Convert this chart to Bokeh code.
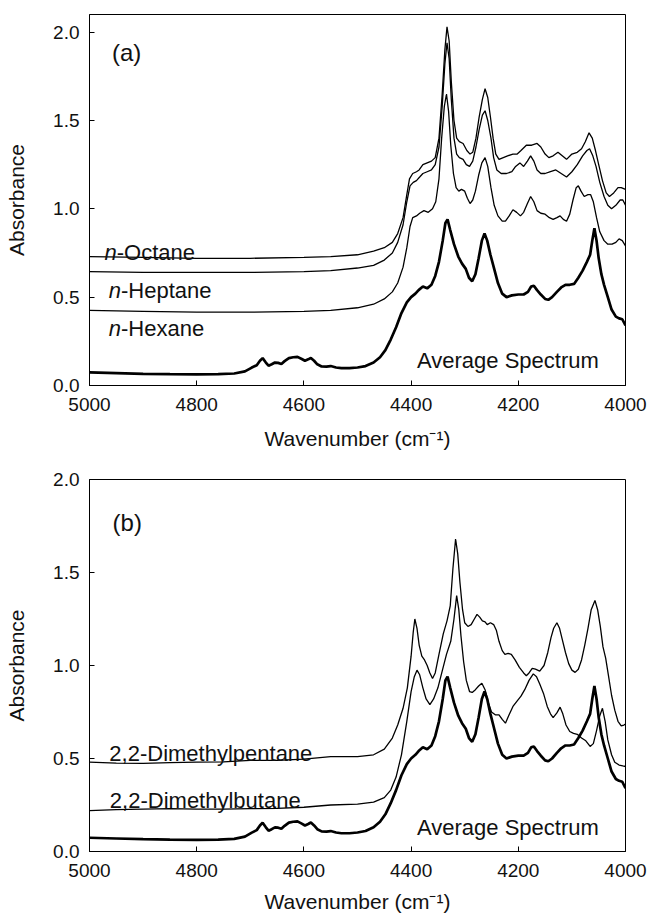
from bokeh.plotting import figure
from bokeh.models import Range1d, FixedTicker, PrintfTickFormatter, Label
from bokeh.layouts import column
from bokeh.embed import file_html
from bokeh.resources import INLINE

FONT = "Liberation Sans"

x_ticks = [5000, 4800, 4600, 4400, 4200, 4000]
y_ticks = [0.0, 0.5, 1.0, 1.5, 2.0]

# ---------------- panel (a) ----------------
octane_wn = [5000, 4900, 4800, 4700, 4600, 4550, 4500, 4470, 4450, 4435, 4425, 4415, 4408, 4403, 4397, 4390,
             4385, 4378, 4370, 4362, 4355, 4348, 4342, 4337, 4333, 4329, 4325, 4320, 4315, 4310, 4303, 4296,
             4290, 4285, 4279, 4273, 4267, 4262, 4257, 4252, 4247, 4242, 4236, 4228, 4220, 4210, 4202, 4195,
             4185, 4175, 4165, 4158, 4150, 4143, 4135, 4126, 4118, 4110, 4100, 4090, 4082, 4075, 4068, 4062,
             4056, 4050, 4043, 4036, 4030, 4022, 4014, 4008, 4000]
octane_abs = [0.73, 0.725, 0.72, 0.72, 0.725, 0.73, 0.74, 0.76, 0.78, 0.81, 0.86, 0.95, 1.08, 1.17, 1.20, 1.21,
              1.22, 1.25, 1.26, 1.27, 1.29, 1.40, 1.65, 1.90, 2.03, 1.95, 1.72, 1.50, 1.40, 1.38, 1.37, 1.33,
              1.31, 1.32, 1.40, 1.52, 1.62, 1.68, 1.63, 1.52, 1.40, 1.31, 1.28, 1.29, 1.30, 1.31, 1.31, 1.33,
              1.36, 1.36, 1.37, 1.35, 1.31, 1.29, 1.30, 1.32, 1.30, 1.28, 1.31, 1.32, 1.34, 1.38, 1.43, 1.40,
              1.33, 1.25, 1.16, 1.09, 1.07, 1.09, 1.12, 1.12, 1.11]

heptane_wn = [5000, 4900, 4800, 4700, 4600, 4550, 4500, 4470, 4450, 4435, 4425, 4415, 4408, 4402, 4396, 4390,
              4384, 4378, 4370, 4362, 4355, 4348, 4342, 4337, 4333, 4329, 4325, 4320, 4315, 4310, 4303, 4297,
              4291, 4285, 4279, 4273, 4267, 4262, 4257, 4251, 4246, 4240, 4232, 4222, 4212, 4205, 4197, 4190,
              4183, 4177, 4171, 4165, 4158, 4150, 4140, 4130, 4120, 4110, 4100, 4090, 4080, 4072, 4067, 4061,
              4055, 4048, 4040, 4033, 4026, 4018, 4010, 4005, 4000]
heptane_abs = [0.645, 0.64, 0.64, 0.64, 0.645, 0.65, 0.665, 0.68, 0.71, 0.75, 0.81, 0.91, 1.04, 1.13, 1.15, 1.16,
               1.18, 1.20, 1.21, 1.22, 1.25, 1.35, 1.58, 1.82, 1.94, 1.85, 1.62, 1.40, 1.31, 1.29, 1.28, 1.25,
               1.24, 1.27, 1.35, 1.45, 1.53, 1.555, 1.50, 1.40, 1.29, 1.22, 1.20, 1.20, 1.21, 1.24, 1.26, 1.24,
               1.27, 1.30, 1.27, 1.22, 1.20, 1.20, 1.21, 1.22, 1.20, 1.18, 1.21, 1.25, 1.30, 1.33, 1.34, 1.30,
               1.24, 1.15, 1.07, 1.02, 1.00, 1.02, 1.05, 1.05, 1.02]

hexane_wn = [5000, 4900, 4800, 4700, 4600, 4550, 4500, 4470, 4450, 4435, 4425, 4415, 4408, 4402, 4397, 4390,
             4384, 4376, 4368, 4360, 4354, 4348, 4343, 4338, 4334, 4330, 4326, 4321, 4316, 4311, 4306, 4300,
             4295, 4290, 4285, 4280, 4274, 4268, 4262, 4257, 4251, 4245, 4238, 4230, 4224, 4217, 4210, 4203,
             4196, 4190, 4183, 4177, 4171, 4165, 4158, 4150, 4142, 4135, 4128, 4122, 4116, 4110, 4104, 4098,
             4092, 4088, 4083, 4077, 4070, 4065, 4060, 4054, 4048, 4040, 4033, 4025, 4018, 4012, 4006, 4000]
hexane_abs = [0.425, 0.42, 0.415, 0.415, 0.42, 0.425, 0.44, 0.46, 0.49, 0.53, 0.58, 0.67, 0.78, 0.90, 0.95, 0.96,
              0.975, 0.99, 0.98, 1.00, 1.04, 1.17, 1.40, 1.58, 1.65, 1.55, 1.36, 1.20, 1.12, 1.10, 1.11, 1.10,
              1.06, 1.03, 1.05, 1.10, 1.19, 1.26, 1.29, 1.24, 1.12, 1.02, 0.96, 0.93, 0.93, 0.96, 0.995, 0.98,
              0.96, 0.98, 1.03, 1.07, 1.04, 0.99, 0.975, 0.97, 0.95, 0.94, 0.95, 0.96, 0.94, 0.93, 0.97, 1.05,
              1.12, 1.13, 1.10, 1.07, 1.08, 1.08, 1.04, 0.95, 0.87, 0.82, 0.80, 0.80, 0.81, 0.83, 0.82, 0.79]

average_wn = [5000, 4950, 4900, 4850, 4800, 4760, 4730, 4710, 4698, 4688, 4682, 4677, 4671, 4666, 4660, 4654,
              4648, 4642, 4636, 4628, 4620, 4612, 4604, 4598, 4592, 4587, 4581, 4575, 4567, 4558, 4550, 4540,
              4530, 4515, 4500, 4485, 4470, 4458, 4448, 4438, 4428, 4418, 4408, 4400, 4392, 4386, 4378, 4370,
              4362, 4355, 4348, 4341, 4336, 4332, 4327, 4320, 4312, 4305, 4298, 4292, 4286, 4280, 4274, 4268,
              4263, 4258, 4252, 4245, 4238, 4230, 4222, 4212, 4200, 4190, 4182, 4176, 4171, 4165, 4158, 4150,
              4144, 4137, 4128, 4120, 4112, 4104, 4096, 4088, 4080, 4072, 4066, 4062, 4058, 4054, 4050, 4045,
              4040, 4033, 4026, 4018, 4012, 4006, 4000]
average_abs = [0.074, 0.07, 0.066, 0.064, 0.063, 0.064, 0.068, 0.08, 0.10, 0.115, 0.14, 0.155, 0.13, 0.112, 0.12, 0.13,
               0.128, 0.122, 0.138, 0.155, 0.16, 0.162, 0.15, 0.14, 0.148, 0.156, 0.14, 0.12, 0.108, 0.107, 0.11, 0.102,
               0.098, 0.098, 0.102, 0.11, 0.13, 0.16, 0.20, 0.26, 0.33, 0.41, 0.47, 0.50, 0.52, 0.54, 0.56, 0.55,
               0.57, 0.62, 0.70, 0.82, 0.92, 0.94, 0.88, 0.80, 0.73, 0.69, 0.66, 0.61, 0.59, 0.63, 0.72, 0.82,
               0.86, 0.82, 0.74, 0.66, 0.58, 0.52, 0.50, 0.51, 0.515, 0.515, 0.53, 0.56, 0.565, 0.54, 0.515, 0.49,
               0.485, 0.50, 0.53, 0.555, 0.57, 0.57, 0.575, 0.61, 0.65, 0.70, 0.74, 0.82, 0.89, 0.82, 0.72, 0.63,
               0.57, 0.50, 0.43, 0.39, 0.38, 0.375, 0.34]

# ---------------- panel (b) ----------------
dmpentane_wn = [5000, 4950, 4900, 4850, 4800, 4750, 4700, 4650, 4600, 4550, 4500, 4470, 4450, 4435, 4425, 4415,
                4407, 4400, 4396, 4393, 4389, 4385, 4380, 4375, 4370, 4365, 4360, 4355, 4348, 4340, 4333, 4327,
                4322, 4317, 4313, 4309, 4304, 4300, 4294, 4288, 4282, 4277, 4272, 4267, 4262, 4258, 4252, 4246,
                4241, 4236, 4230, 4225, 4219, 4213, 4206, 4198, 4190, 4185, 4180, 4174, 4168, 4160, 4152, 4145,
                4139, 4134, 4128, 4123, 4118, 4112, 4106, 4100, 4094, 4088, 4082, 4076, 4070, 4064, 4057, 4052,
                4047, 4042, 4037, 4032, 4026, 4020, 4014, 4008, 4003, 4000]
dmpentane_abs = [0.48, 0.475, 0.474, 0.478, 0.48, 0.482, 0.49, 0.49, 0.497, 0.51, 0.51, 0.52, 0.55, 0.61, 0.68, 0.77,
                 0.88, 1.05, 1.18, 1.25, 1.20, 1.11, 1.05, 1.03, 1.00, 0.96, 0.93, 0.96, 1.06, 1.17, 1.24, 1.32,
                 1.52, 1.68, 1.60, 1.45, 1.30, 1.23, 1.21, 1.22, 1.25, 1.275, 1.26, 1.24, 1.235, 1.22, 1.23, 1.22,
                 1.19, 1.13, 1.08, 1.06, 1.065, 1.06, 1.03, 0.99, 0.96, 0.945, 0.96, 0.985, 0.98, 0.97, 1.00, 1.07,
                 1.15, 1.20, 1.23, 1.20, 1.14, 1.07, 1.01, 0.975, 0.963, 0.98, 1.03, 1.11, 1.20, 1.30, 1.35, 1.30,
                 1.21, 1.10, 1.04, 0.95, 0.84, 0.76, 0.70, 0.675, 0.68, 0.685]

dmbutane_wn = [5000, 4950, 4900, 4850, 4800, 4750, 4700, 4650, 4600, 4550, 4500, 4470, 4450, 4438, 4428, 4418,
               4408, 4400, 4394, 4389, 4384, 4378, 4372, 4365, 4358, 4350, 4342, 4334, 4326, 4320, 4315, 4311,
               4307, 4302, 4297, 4291, 4286, 4280, 4274, 4268, 4262, 4256, 4250, 4243, 4236, 4230, 4224, 4218,
               4210, 4202, 4195, 4188, 4180, 4172, 4166, 4160, 4153, 4146, 4140, 4135, 4128, 4122, 4117, 4111,
               4104, 4097, 4090, 4082, 4074, 4066, 4060, 4054, 4048, 4043, 4038, 4033, 4026, 4020, 4012, 4005,
               4000]
dmbutane_abs = [0.22, 0.225, 0.228, 0.23, 0.228, 0.228, 0.23, 0.232, 0.238, 0.25, 0.255, 0.265, 0.29, 0.33, 0.40, 0.52,
                0.70, 0.86, 0.94, 0.975, 0.95, 0.88, 0.82, 0.79, 0.82, 0.88, 0.97, 1.06, 1.13, 1.25, 1.376, 1.30,
                1.16, 1.02, 0.92, 0.86, 0.855, 0.87, 0.89, 0.905, 0.87, 0.80, 0.75, 0.735, 0.735, 0.71, 0.69, 0.73,
                0.78, 0.81, 0.835, 0.87, 0.92, 0.955, 0.94, 0.90, 0.85, 0.78, 0.74, 0.72, 0.745, 0.776, 0.74, 0.68,
                0.645, 0.635, 0.63, 0.61, 0.595, 0.565, 0.58, 0.65, 0.73, 0.77, 0.70, 0.60, 0.52, 0.48, 0.465, 0.46,
                0.457]

THIN = 1.3
THICK = 2.7


def make_fig(height, top_border, bottom_border, ymax, xlabel_standoff):
    p = figure(width=648, height=height,
               x_range=Range1d(5000, 4000), y_range=Range1d(0, ymax),
               output_backend="svg", toolbar_location=None,
               min_border_left=89, min_border_right=23,
               min_border_top=top_border, min_border_bottom=bottom_border,
               x_axis_label="Wavenumber (cm\u207b\u00b9)", y_axis_label="Absorbance")
    p.grid.visible = False
    p.outline_line_color = "black"
    p.outline_line_width = 1
    for ax in (p.xaxis[0], p.yaxis[0]):
        ax.major_tick_in = 5
        ax.major_tick_out = 0
        ax.minor_tick_in = 0
        ax.minor_tick_out = 0
        ax.axis_line_color = "black"
        ax.major_tick_line_color = "black"
        ax.major_label_text_font = FONT
        ax.major_label_text_font_size = "19px"
        ax.major_label_text_color = "#111111"
        ax.axis_label_text_font = FONT
        ax.axis_label_text_font_size = "21px"
        ax.axis_label_text_font_style = "normal"
        ax.axis_label_text_color = "#111111"
    p.xaxis.ticker = FixedTicker(ticks=x_ticks)
    p.yaxis.ticker = FixedTicker(ticks=y_ticks)
    p.yaxis.formatter = PrintfTickFormatter(format="%.1f")
    p.xaxis.major_label_standoff = 12
    p.yaxis.major_label_standoff = 10
    p.xaxis.axis_label_standoff = xlabel_standoff
    p.yaxis.axis_label_standoff = 22
    return p


def add_text(p, x, y, txt, size="22px", style="normal", x_offset=0):
    p.add_layout(Label(x=x, y=y, text=txt, text_font=FONT, text_font_size=size,
                       text_font_style=style, text_baseline="alphabetic", text_align="left",
                       text_color="#111111", x_offset=x_offset))


# panel (a)
pa = make_fig(462, 14, 77, 2.1, 13)
pa.line(octane_wn, octane_abs, line_color="black", line_width=THIN)
pa.line(heptane_wn, heptane_abs, line_color="black", line_width=THIN)
pa.line(hexane_wn, hexane_abs, line_color="black", line_width=THIN)
pa.line(average_wn, average_abs, line_color="black", line_width=THICK)
add_text(pa, 4958, 1.887, "(a)", size="24px")
add_text(pa, 4972, 0.755, "n", style="italic")
add_text(pa, 4972, 0.755, "-Octane", x_offset=12.2)
add_text(pa, 4964, 0.538, "n", style="italic")
add_text(pa, 4964, 0.538, "-Heptane", x_offset=12.2)
add_text(pa, 4964, 0.321, "n", style="italic")
add_text(pa, 4964, 0.321, "-Hexane", x_offset=12.2)
add_text(pa, 4389, 0.1416, "Average Spectrum")

# panel (b)
pb = make_fig(456, 17, 67, 2.0, 10)
pb.line(dmpentane_wn, dmpentane_abs, line_color="black", line_width=THIN)
pb.line(dmbutane_wn, dmbutane_abs, line_color="black", line_width=THIN)
pb.line(average_wn, average_abs, line_color="black", line_width=THICK)
add_text(pb, 4957, 1.77, "(b)", size="24px")
add_text(pb, 4963, 0.525, "2,2-Dimethylpentane")
add_text(pb, 4962, 0.274, "2,2-Dimethylbutane")
add_text(pb, 4389, 0.13, "Average Spectrum")

layout = column(pa, pb)
open("out.html", "w").write(file_html(layout, INLINE))
